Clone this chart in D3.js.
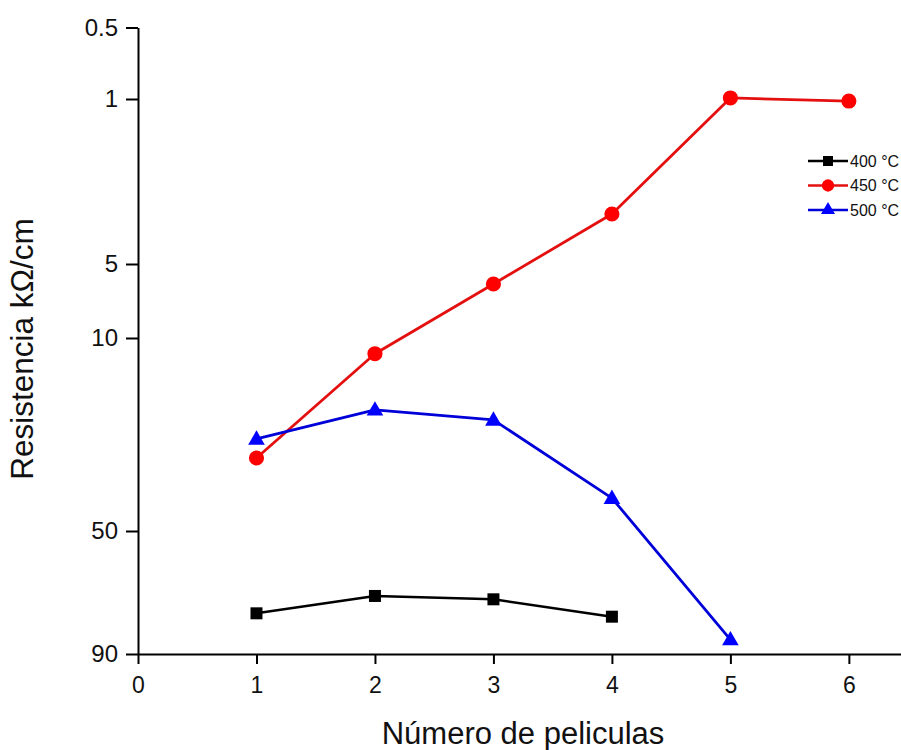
<!DOCTYPE html>
<html>
<head>
<meta charset="utf-8">
<script src="https://cdn.jsdelivr.net/npm/d3@7"></script>
<style>
  html, body { margin: 0; padding: 0; background: #fff; }
  svg { display: block; font-family: "Liberation Sans", Arial, sans-serif; }
</style>
</head>
<body>
<svg id="chart" width="901" height="750"></svg>
<script>
// Film count on the x axis
const peliculas = [1, 2, 3, 4, 5, 6];

// Resistance (kΩ/cm) per anneal temperature
const r400 = [74.1, 68.2, 69.3, 75.3];
const r450 = [27.2, 11.4, 6.03, 3.07, 0.99, 1.02];
const r500 = [23.2, 18.2, 19.8, 38.0, 84.0];

// Series names and colours
const seriesNames = ["400 °C", "450 °C", "500 °C"];
const seriesColors = ["#000000", "#ff0000", "#0000ff"];
const lineColors = ["#000000", "#e41010", "#0000d8"];

// Axis ticks
const xTicks = [0, 1, 2, 3, 4, 5, 6];
const yTicks = [0.5, 1, 5, 10, 50, 90];
const yTickLabels = ["0.5", "1", "5", "10", "50", "90"];

const svg = d3.select("#chart");

// Horizontal scale
const x = d3.scaleLinear().domain([0, 6.44]).range([138, 901]);

// Vertical scale: piecewise in log space, growing downward
const yStops = [27.5, 99, 264, 338, 531, 654];
const yLog = d3.scaleLinear().domain(yTicks.map(Math.log10)).range(yStops);
const y = v => yLog(Math.log10(v));

const axisColor = "#000";
const textColor = "#111";
const fontFamily = "'Liberation Sans', Arial, sans-serif";

// X axis
const gx = svg.append("g")
  .attr("transform", `translate(0,${yStops[yStops.length - 1]})`)
  .call(d3.axisBottom(x).tickValues(xTicks).tickFormat(d3.format("d"))
    .tickSize(10).tickSizeOuter(0).tickPadding(13));
gx.select(".domain").attr("stroke", axisColor).attr("stroke-width", 2);
gx.selectAll(".tick line").attr("stroke", axisColor).attr("stroke-width", 2);
gx.selectAll(".tick text")
  .style("font-size", "23px")
  .style("font-family", fontFamily)
  .attr("fill", textColor);

// Y axis
const gy = svg.append("g")
  .attr("transform", `translate(${x(0)},0)`)
  .call(d3.axisLeft(yLog).tickValues(yTicks.map(Math.log10))
    .tickFormat((d, i) => yTickLabels[i])
    .tickSize(12).tickSizeOuter(0).tickPadding(8));
gy.select(".domain").attr("stroke", axisColor).attr("stroke-width", 2);
gy.selectAll(".tick line").attr("stroke", axisColor).attr("stroke-width", 2);
gy.selectAll(".tick text")
  .style("font-size", "24px")
  .style("font-family", fontFamily)
  .attr("fill", textColor);

// Axis titles
svg.append("text")
  .attr("x", 523).attr("y", 744)
  .attr("text-anchor", "middle")
  .style("font-size", "31px").style("font-family", fontFamily)
  .attr("fill", textColor)
  .text("Número de peliculas");

svg.append("text")
  .attr("transform", "translate(33,349) rotate(-90)")
  .attr("text-anchor", "middle")
  .style("font-size", "31.5px").style("font-family", fontFamily)
  .attr("fill", textColor)
  .text("Resistencia kΩ/cm");

// Series
const series = [r400, r450, r500];
const symbols = [d3.symbolSquare, d3.symbolCircle, d3.symbolTriangle];
const symbolSizes = [144, 180, 120];
const legendSizes = [100, 120, 85];

const line = d3.line()
  .x(d => x(d[0]))
  .y(d => y(d[1]));

series.forEach((vals, s) => {
  const pts = vals.map((v, i) => [peliculas[i], v]);
  svg.append("path")
    .datum(pts)
    .attr("d", line)
    .attr("fill", "none")
    .attr("stroke", lineColors[s])
    .attr("stroke-width", s === 0 ? 2.6 : 2.8)
    .attr("stroke-linejoin", "round");
  svg.append("g").selectAll("path")
    .data(pts)
    .join("path")
    .attr("transform", d => `translate(${x(d[0])},${y(d[1]) + (s === 2 ? 1 : 0)})`)
    .attr("d", d3.symbol().type(symbols[s]).size(symbolSizes[s]))
    .attr("fill", seriesColors[s]);
});

// Legend
const legend = svg.append("g").attr("transform", "translate(808,161)");
seriesNames.forEach((name, s) => {
  const g = legend.append("g").attr("transform", `translate(0,${s * 24.5})`);
  g.append("line")
    .attr("x1", 0).attr("x2", 40).attr("y1", 0).attr("y2", 0)
    .attr("stroke", lineColors[s]).attr("stroke-width", 2.6);
  g.append("path")
    .attr("transform", "translate(20,0)")
    .attr("d", d3.symbol().type(symbols[s]).size(legendSizes[s]))
    .attr("fill", seriesColors[s]);
  g.append("text")
    .attr("x", 42).attr("y", 5.5)
    .style("font-size", "16px").style("font-family", fontFamily)
    .attr("fill", textColor)
    .text(name);
});
</script>
</body>
</html>
